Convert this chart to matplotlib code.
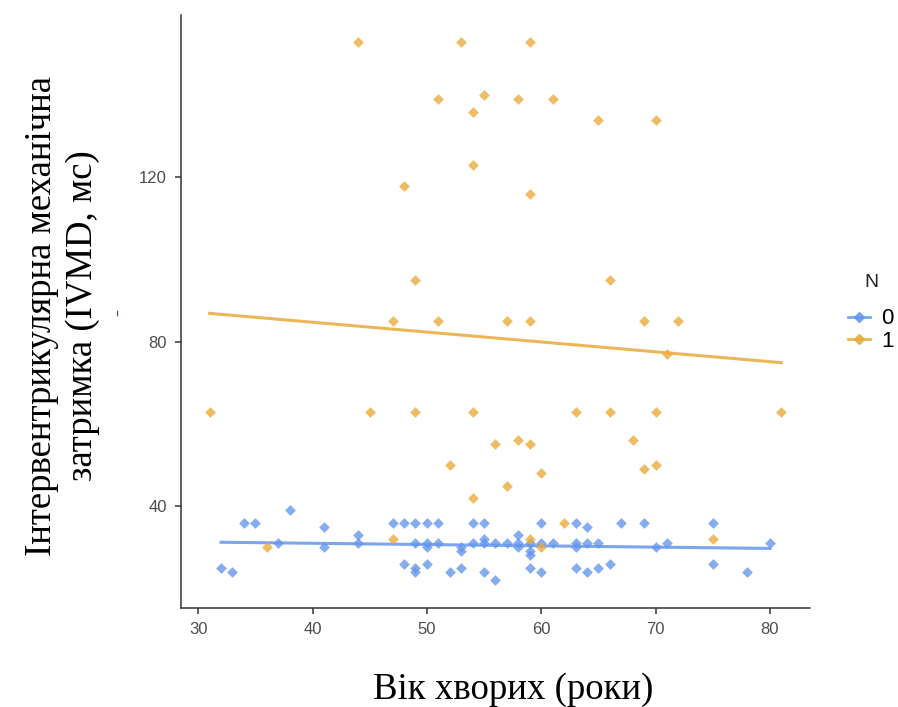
import matplotlib
matplotlib.use("Agg")
import matplotlib.pyplot as plt  # noqa: E402
from matplotlib.lines import Line2D  # noqa: E402

# group N = 0 (age, IVMD)
age_0 = [32, 33, 34, 35, 37, 38, 41, 41, 44, 44, 47, 48, 48, 49, 49, 49, 49,
         50, 50, 50, 50, 51, 51, 52, 53, 53, 53, 54, 54, 55, 55, 55, 55, 56,
         56, 57, 58, 58, 58, 59, 59, 59, 59, 60, 60, 60, 61, 63, 63, 63, 63,
         64, 64, 64, 65, 65, 66, 67, 69, 70, 71, 75, 75, 78, 80]
ivmd_0 = [25, 24, 36, 36, 31, 39, 35, 30, 33, 31, 36, 36, 26, 36, 31, 25, 24,
          36, 31, 30, 26, 36, 31, 24, 30, 29, 25, 36, 31, 36, 32, 31, 24, 31,
          22, 31, 33, 31, 30, 31, 29, 28, 25, 36, 31, 24, 31, 36, 31, 30, 25,
          35, 31, 24, 31, 25, 26, 36, 36, 30, 31, 36, 26, 24, 31]

# group N = 1
age_1 = [44, 53, 59, 51, 55, 54, 54, 48, 58, 61, 65, 70, 59, 49, 66, 47, 51,
         57, 59, 69, 72, 71, 31, 45, 49, 54, 63, 66, 70, 81, 56, 58, 59, 68,
         60, 57, 54, 52, 69, 70, 36, 47, 62, 59, 60, 75]
ivmd_1 = [153, 153, 153, 139, 140, 136, 123, 118, 139, 139, 134, 134, 116, 95,
          95, 85, 85, 85, 85, 85, 85, 77, 63, 63, 63, 63, 63, 63, 63, 63, 55,
          56, 55, 56, 48, 45, 42, 50, 49, 50, 30, 32, 36, 32, 30, 32]

# linear trend ends per group
trend_x0 = [32, 80]
trend_y0 = [31.2, 29.7]
trend_x1 = [31, 81]
trend_y1 = [86.9, 74.9]

x_ticks = [30, 40, 50, 60, 70, 80]
y_ticks = [40, 80, 120]

BLUE = "#6495ED"
ORANGE = "#E8A93A"
TICK = "#4D4D4D"
SANS = "Liberation Sans"
SERIF = "Liberation Serif"

fig = plt.figure(figsize=(8.98, 7.07), dpi=100)
ax = fig.add_axes([181 / 898, 1 - 608 / 707, (810 - 181) / 898, (608 - 15) / 707])

ax.scatter(age_0, ivmd_0, marker="D", s=30, color=BLUE, alpha=0.78,
           linewidths=0, zorder=3)
ax.scatter(age_1, ivmd_1, marker="D", s=30, color=ORANGE, alpha=0.78,
           linewidths=0, zorder=3)
ax.plot(trend_x0, trend_y0, color=BLUE, lw=2.2, alpha=0.85, zorder=2)
ax.plot(trend_x1, trend_y1, color=ORANGE, lw=2.2, alpha=0.85, zorder=2)

ax.set_xlim(28.5, 83.5)
ax.set_ylim(15.2, 159.5)
ax.set_xticks(x_ticks)
ax.set_yticks(y_ticks)
for s in ("top", "right"):
    ax.spines[s].set_visible(False)
for s in ("left", "bottom"):
    ax.spines[s].set_color("#333333")
    ax.spines[s].set_linewidth(1.1)
ax.tick_params(length=4, width=1.1, color="#333333", labelcolor=TICK,
               labelsize=12, pad=6)
for lab in ax.get_xticklabels() + ax.get_yticklabels():
    lab.set_fontfamily(SANS)

fig.text(513 / 898, 1 - 690 / 707, "Вік хворих (роки)", family=SERIF,
         fontsize=26.5, ha="center", va="center")
fig.text(62 / 898, 1 - 316 / 707,
         "Інтервентрикулярна механічна\nзатримка (IVMD, мс)", family=SERIF,
         fontsize=26.5, ha="center", va="center", rotation=90, linespacing=1.25)
fig.text(119 / 898, 1 - 313 / 707, "–", fontsize=10, color="#3b4a7a",
         ha="center", va="center", rotation=90)

# legend: title drawn separately to get the wider gap above the keys
fig.text(864 / 898, 1 - 283 / 707, "N", family=SANS, fontsize=14,
         color="#222222", ha="left", va="center")
handles = [Line2D([], [], color=BLUE, lw=2, marker="D", ms=5, alpha=0.85),
           Line2D([], [], color=ORANGE, lw=2, marker="D", ms=5, alpha=0.85)]
fig.legend(handles, ["0", "1"], frameon=False,
           loc="center left", bbox_to_anchor=(832 / 898, 1 - 330 / 707),
           prop={"family": SANS, "size": 16}, handlelength=1.0,
           handletextpad=0.5, labelspacing=0.05, borderpad=0.2)

fig.savefig("out.png", dpi=100)
